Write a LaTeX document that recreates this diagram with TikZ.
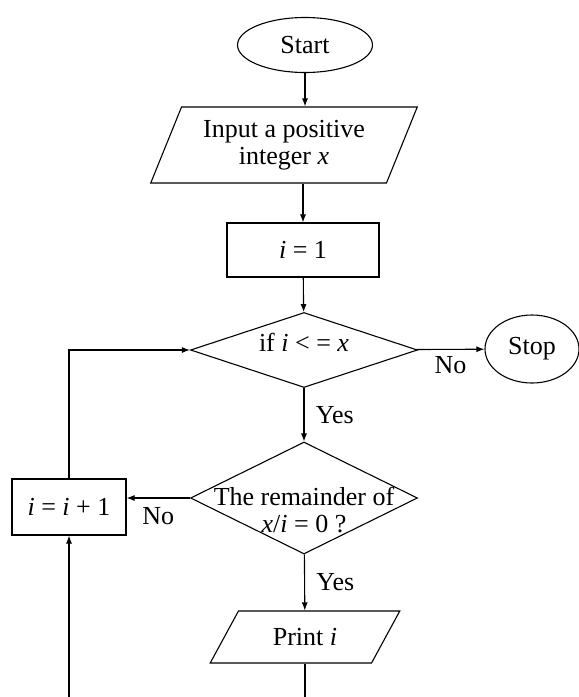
\documentclass[tikz,border=0pt]{standalone}
\usepackage{fontspec}
\setmainfont{Liberation Serif}
\usetikzlibrary{positioning}
\usetikzlibrary{shapes.geometric}
\usetikzlibrary{arrows.meta}

\tikzset{
  terminal/.style={draw, ellipse, inner sep=0pt},
  process/.style={draw, rectangle, inner sep=0pt},
  io/.style={draw, trapezium, trapezium stretches=true, inner sep=0pt, align=center},
  decision/.style={draw, diamond, inner sep=0pt},
}

\begin{document}
\begin{tikzpicture}[x=1pt, y=-1pt, line width=1.1pt, >={Latex[length=8pt,width=6pt]},
  font=\fontsize{26}{27}\selectfont]
\path[use as bounding box, clip] (0,0) rectangle (579,697);
\fill[white] (0,0) rectangle (579,697);

\node[terminal, minimum width=135, minimum height=55] (start) at (305,45) {Start};
\node[io, trapezium left angle=64, trapezium right angle=116, minimum width=267, minimum height=76] (input) at (284,145) {Input a positive\\integer \textit{x}};
\node[process, minimum width=152, minimum height=54] (init) at (303,250) {\textit{i} = 1};
\node[decision, minimum width=227, minimum height=75, label={[yshift=8]center:if \textit{i} < = \textit{x}}] (cond) at (304,350) {};
\node[terminal, minimum width=94, minimum height=68] (stop) at (532,349) {Stop};
\node[decision, minimum width=227, minimum height=112, label={[align=center, yshift=-12]center:The remainder of\\\textit{x}/\textit{i} = 0 ?}] (check) at (304,498) {};
\node[process, minimum width=114, minimum height=56] (incr) at (69,507) {\textit{i} = \textit{i} + 1};
\node[io, trapezium left angle=52, trapezium right angle=128, minimum width=190, minimum height=52] (print) at (305,637) {Print \textit{i}};

\draw[->] (start) -- (start |- input.north);
\draw[->] (input.south -| init) -- (init);
\draw[->] (init) -- (cond);
\draw[->] (cond) -- node[below=3pt]{No} (stop);
\draw[->] (cond) -- node[right=8pt]{Yes} (check);
\draw[->] (check) -- node[below=6pt]{No} (check -| incr.east);
\draw[->] (check) -- node[right=8pt]{Yes} (print);
\draw[->] (incr) |- (cond);
\draw[->] (print) -- ++(0,80) -| (incr);
\end{tikzpicture}
\end{document}
